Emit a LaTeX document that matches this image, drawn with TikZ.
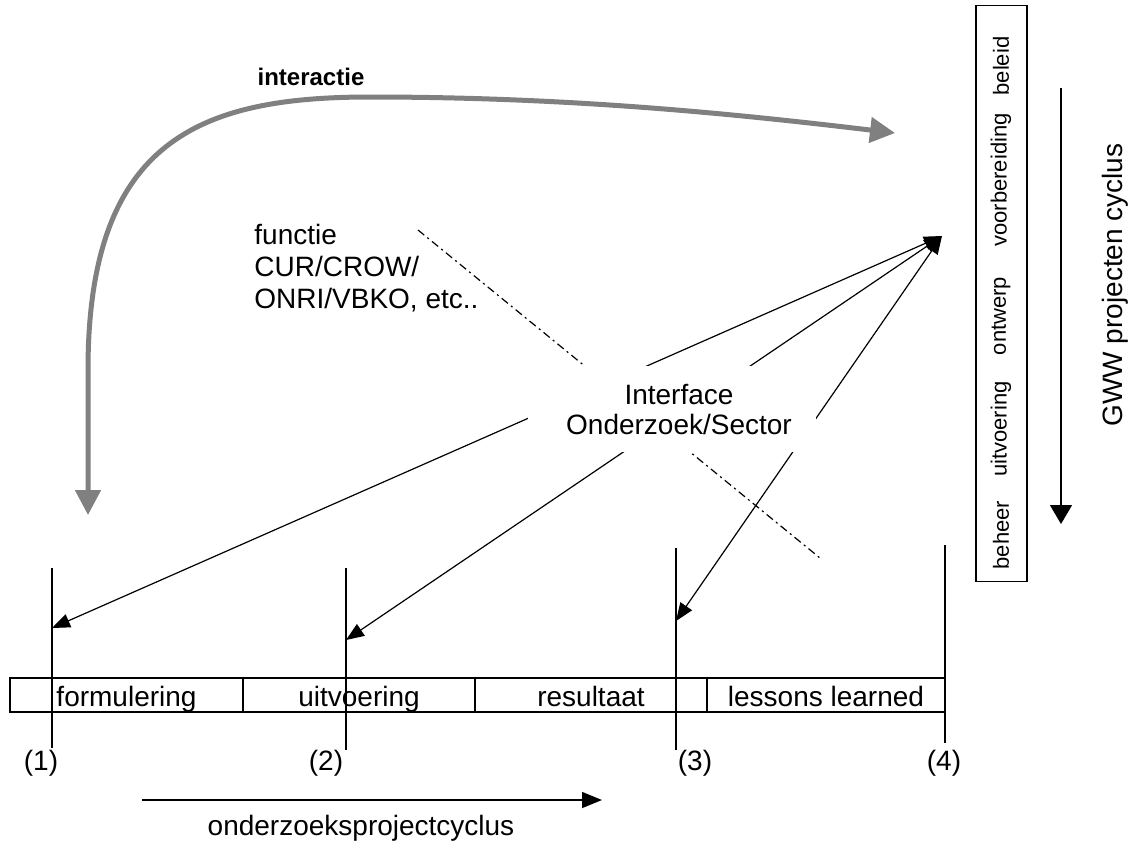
\documentclass[tikz,border=0pt]{standalone}
\usepackage{fontspec}
\setmainfont{Liberation Sans}
\usetikzlibrary{arrows.meta,positioning}
\definecolor{cyclegray}{RGB}{128,128,128}
\tikzset{
  txt/.style={inner sep=0pt, font=\fontsize{14}{16}\selectfont},
  cell/.style={draw, line width=0.7pt, minimum height=17pt, inner sep=0pt, outer sep=0pt,
    text height=14pt, text depth=3pt, font=\fontsize{14}{16}\selectfont},
  phase/.style={rotate=90, inner sep=0pt, font=\fontsize{11}{13}\selectfont},
  marker/.style={line width=0.7pt},
  link/.style={line width=0.6pt, {Triangle[length=9pt,width=7pt]}-{Triangle[length=9pt,width=7pt]}},
  flow/.style={line width=0.7pt, -{Triangle[length=9.5pt,width=9pt]}},
  interactie/.style={line width=2.5pt, cyclegray, {Triangle[length=12.5pt,width=12.5pt]}-{Triangle[length=12.5pt,width=12.5pt]}}
}
\begin{document}
\begin{tikzpicture}[x=0.5pt, y=-0.5pt]
\useasboundingbox (0,0) rectangle (1136,848);

% onderzoeksprojectcyclus balk
\node[cell, minimum width=116.5pt] (form) at (126.5,695) {formulering};
\node[cell, minimum width=116pt] (uitv) at (359,695) {uitvoering};
\node[cell, minimum width=116pt] (res) at (591,695) {resultaat};
\node[cell, minimum width=119pt] (les) at (826,695) {lessons learned};
\draw[line width=1.3pt] (res.north west) -- (res.south west);

% markeringen (1)-(4)
\coordinate (m1t) at (52,568);  \coordinate (m1b) at (52,748);
\coordinate (m2t) at (346,568); \coordinate (m2b) at (346,750);
\coordinate (m3t) at (676,548); \coordinate (m3b) at (676,750);
\coordinate (m4t) at (945,545); \coordinate (m4b) at (945,743);
\foreach \m in {1,...,4} \draw[marker] (m\m t) -- (m\m b);
\node[txt] (n1) at (41,763) {(1)};
\node[txt] (n2) at (326,763) {(2)};
\node[txt] (n3) at (695,763) {(3)};
\node[txt] (n4) at (944,763) {(4)};

% verbindingen via interface
\coordinate (hub) at (942,236);
\coordinate (e1) at (52,628);
\coordinate (e2) at (346,640);
\coordinate (e3) at (676,621);
\coordinate (fs) at (418,230);
\coordinate (fe) at (820,558);
\draw[link] (hub) -- (e1);
\draw[link] (hub) -- (e2);
\draw[link] (hub) -- (e3);
\draw[line width=0.6pt, dash pattern=on 4pt off 2pt on 1pt off 2pt] (fs) -- (fe);
\node[fill=white, minimum width=144pt, minimum height=43pt, inner sep=0pt,
      align=center, font=\fontsize{14}{15}\selectfont] (iface) at (672,409)
      {\hspace*{7pt}Interface\\\hspace*{7pt}Onderzoek/Sector};

\node[txt, anchor=west, align=left] (functie) at (254,268) {functie\\CUR/CROW/\\ONRI/VBKO, etc..};

% interactie
\coordinate (ia) at (88,515);
\coordinate (ib) at (895,133);
\draw[interactie] (ia) -- (88,370) .. controls (88,140) and (200,97) .. (370,97)
  .. controls (560,97) and (720,112) .. (ib);
\node[inner sep=0pt, font=\fontsize{12}{14}\selectfont\bfseries] (ilabel) at (311,77) {interactie};

% GWW projecten cyclus
\node[draw, line width=0.7pt, minimum width=25.5pt, minimum height=288pt, inner sep=0pt] (gww) at (1001.5,293.5) {};
\node[phase] (beleid) at (1001,66) {beleid};
\node[phase] (voorb) at (1001,180) {voorbereiding};
\node[phase] (ontw) at (1001,316) {ontwerp};
\node[phase] (uitvg) at (1001,429) {uitvoering};
\node[phase] (beheer) at (1001,535) {beheer};
\coordinate (ga) at (1061,88);
\coordinate (gb) at (1061,524);
\draw[flow, -{Triangle[length=9.5pt,width=11pt]}] (ga) -- (gb);
\node[rotate=90, inner sep=0pt, font=\fontsize{14}{16}\selectfont] (gwwlabel) at (1115,285) {GWW projecten cyclus};

% onderzoeksprojectcyclus
\coordinate (oa) at (142,800);
\coordinate (ob) at (602,800);
\draw[flow, -{Triangle[length=10pt,width=8pt]}] (oa) -- (ob);
\node[txt] (olabel) at (361,828) {onderzoeksprojectcyclus};
\end{tikzpicture}
\end{document}
